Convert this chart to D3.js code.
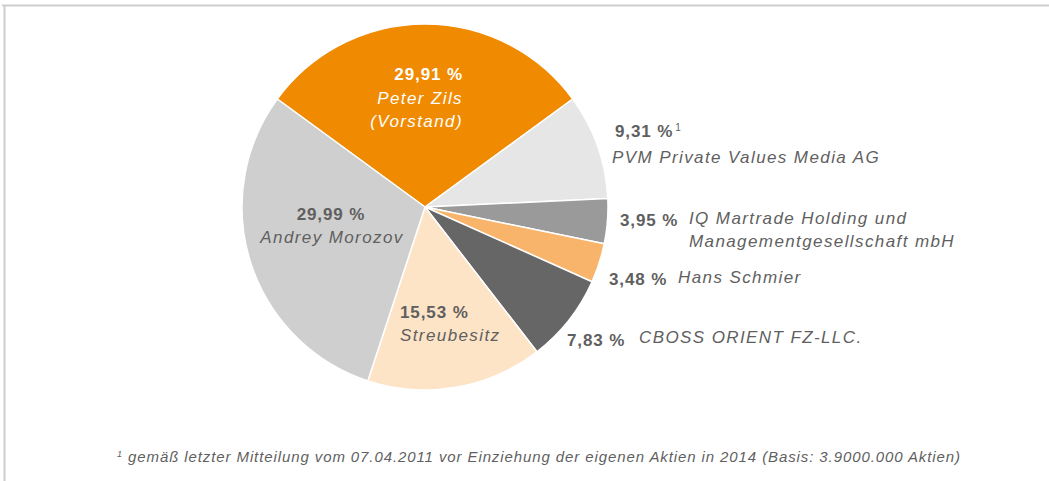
<!DOCTYPE html>
<html><head><meta charset="utf-8">
<script src="https://cdn.jsdelivr.net/npm/d3@7"></script>
<style>
html,body{margin:0;padding:0;background:#fff;}
svg{display:block;font-family:"Liberation Sans",Arial,sans-serif;}
</style></head>
<body><svg id="c" width="1049" height="481"></svg>
<script>
const names = ["Peter Zils", "PVM Private Values Media AG", "IQ Martrade Holding und", "Hans Schmier", "CBOSS ORIENT FZ-LLC.", "Streubesitz", "Andrey Morozov"];
const values = [29.91, 9.31, 3.95, 3.48, 7.83, 15.53, 29.99];
const valueLabels = ["29,91 %", "9,31 %", "3,95 %", "3,48 %", "7,83 %", "15,53 %", "29,99 %"];
const colors = ["#f08a00", "#e6e6e6", "#9a9a9a", "#f9b46b", "#666666", "#fde4c7", "#cfcfcf"];
const footnote = "gemäß letzter Mitteilung vom 07.04.2011 vor Einziehung der eigenen Aktien in 2014 (Basis: 3.9000.000 Aktien)";

const svg = d3.select("#c");
// frame lines
svg.append("line").attr("x1",2).attr("x2",1049).attr("y1",5.5).attr("y2",5.5).attr("stroke","#cdcdcd").attr("stroke-width",2);
svg.append("line").attr("x1",4.5).attr("x2",4.5).attr("y1",5).attr("y2",481).attr("stroke","#cdcdcd").attr("stroke-width",2);

const cx = 425, cy = 207, R = 183;
const total = d3.sum(values);
const first = values[0] / total * 2 * Math.PI;
const pie = d3.pie().sort(null).value(d => d).startAngle(-first/2).endAngle(2*Math.PI - first/2);
const arcs = pie(values);
const arc = d3.arc().innerRadius(0).outerRadius(R);
const g = svg.append("g").attr("transform", `translate(${cx},${cy})`);
g.selectAll("path").data(arcs).join("path")
  .attr("d", arc).attr("fill", (d,i) => colors[i])
  .attr("stroke", "#fff").attr("stroke-width", 1.5).attr("stroke-linejoin","round");

const grey = "#5f5f5f";
const fs = 17;
function txt(x, y, s, opts) {
  const t = svg.append("text").attr("x", x).attr("y", y).text(s)
    .attr("font-size", opts.size || fs)
    .attr("fill", opts.fill || grey)
    .attr("text-anchor", opts.anchor || "start");
  if (opts.bold) t.attr("font-weight", "bold").attr("letter-spacing", 0.9);
  else t.attr("letter-spacing", 1.4);
  if (opts.italic) t.attr("font-style", "italic");
  return t;
}
// Peter Zils (right aligned, white)
txt(463, 80, valueLabels[0], {bold:true, fill:"#fff", anchor:"end"});
txt(463, 104, names[0], {italic:true, fill:"#fff", anchor:"end"});
txt(463, 127, "(Vorstand)", {italic:true, fill:"#fff", anchor:"end"});
// Andrey
txt(331, 220, valueLabels[6], {bold:true, anchor:"middle"});
txt(332, 243, names[6], {italic:true, anchor:"middle"});
// Streubesitz
txt(400, 318, valueLabels[5], {bold:true});
txt(400, 341, names[5], {italic:true});
// PVM
const t1 = txt(615, 137, valueLabels[1], {bold:true});
t1.append("tspan").attr("font-size", 10).attr("font-weight","normal").attr("dx", 2).attr("dy", -6).text("1");
txt(612, 163, names[1], {italic:true});
// IQ
txt(620, 226, valueLabels[2], {bold:true});
txt(689, 224, names[2], {italic:true});
txt(689, 247, "Managementgesellschaft mbH", {italic:true});
// Hans
txt(609, 285, valueLabels[3], {bold:true});
txt(678, 283, names[3], {italic:true});
// CBOSS
txt(567, 346, valueLabels[4], {bold:true});
txt(639, 343, names[4], {italic:true});
// footnote
const fn = svg.append("text").attr("x", 539).attr("y", 462).attr("text-anchor","middle")
  .attr("font-size", 15).attr("font-style","italic").attr("fill", grey).attr("letter-spacing", 0.9);
fn.append("tspan").attr("font-size", 9).attr("dy", -5).text("1");
fn.append("tspan").attr("dy", 5).text(" " + footnote);
</script></body></html>
